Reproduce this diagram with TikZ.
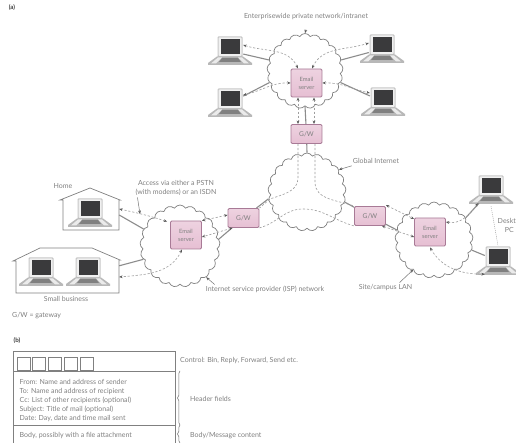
\documentclass[tikz,border=0pt]{standalone}
\usepackage{fontspec}
\setmainfont{Lato}
\usetikzlibrary{shapes.symbols,arrows.meta,calc,decorations.pathreplacing}
\definecolor{inkg}{HTML}{808080}
\definecolor{boxb}{HTML}{A87A96}
\definecolor{boxf}{HTML}{E6BFD3}
\definecolor{scr}{HTML}{3A3A3C}
\tikzset{
  lbl/.style={text=inkg,font=\fontsize{7}{8.4}\selectfont,inner sep=0pt,align=center},
  lblL/.style={lbl,align=left,anchor=west},
  title/.style={text=black!75,font=\fontsize{6.2}{7.2}\selectfont\bfseries,inner sep=0pt},
  cloudnet/.style={cloud,cloud puffs=21,cloud puff arc=120,aspect=1,draw=inkg,line width=.7pt,inner sep=0pt},
  mailbox/.style={draw=boxb,line width=.8pt,rounded corners=1.2pt,top color=boxf!70,bottom color=boxf,text=inkg,
     font=\fontsize{5.8}{8}\selectfont,align=center,inner sep=0pt,minimum width=31pt,minimum height=28pt},
  gwbox/.style={mailbox,minimum height=19pt,font=\fontsize{6.6}{7}\selectfont},
  lapnode/.style={inner sep=0pt,minimum width=26pt,minimum height=26pt},
  solidlink/.style={draw=black!45,line width=1.1pt},
  dashlink/.style={draw=black!38,dash pattern=on 2.2pt off 1.8pt,line width=.6pt},
  dasharrow/.style={dashlink,{Stealth[length=3.4pt,width=2.8pt,black!65]}-{Stealth[length=3.4pt,width=2.8pt,black!65]}},
  pointer/.style={draw=black!55,line width=.5pt,-{Stealth[length=3.5pt,width=2.8pt,black!65]}},
  tablerule/.style={draw=black!50,line width=.55pt},
  bracerule/.style={draw=black!55,line width=.5pt,decorate,decoration={brace,amplitude=2.5pt,mirror}},
}
\newcommand{\laptop}[3]{%
  \node[lapnode] (#1) at (#2,#3) {};
  \begin{scope}[shift={(#2,#3)}]
    \fill[black!22,rounded corners=1pt] (-12.5,-14.5) rectangle (12.5,6);
    \fill[black!6,rounded corners=1pt] (-11.5,-13.5) rectangle (11.5,5);
    \fill[scr] (-9.5,-12) rectangle (9.5,3.5);
    \fill[black!28] (-13,5.5) -- (13,5.5) -- (22,12) -- (22,14) -- (-22,14) -- (-22,12) -- cycle;
    \fill[black!8] (-12,6.5) -- (-8,6.5) -- (-14,12.5) -- (-19,12.5) -- cycle;
    \fill[black!8] (12,6.5) -- (8,6.5) -- (14,12.5) -- (19,12.5) -- cycle;
    \fill[black!50] (-8,7) -- (8,7) -- (11,11) -- (-11,11) -- cycle;
  \end{scope}}
\begin{document}
\begin{tikzpicture}[x=1pt,y=-1pt]
\useasboundingbox (0,0) rectangle (516,443);
\fill[white] (0,0) rectangle (516,443);

% clouds
\node[cloudnet,minimum width=76pt,minimum height=75pt] (cTop) at (305,71) {};
\node[cloudnet,minimum width=78pt,minimum height=78pt] (cGlobal) at (307,192) {};
\node[cloudnet,minimum width=80pt,minimum height=82pt] (cIsp) at (180,246) {};
\node[cloudnet,minimum width=78pt,minimum height=76pt] (cSite) at (434,240) {};

% buildings
\node[inner sep=0pt,minimum width=56pt,minimum height=30pt] (home) at (91,215) {};
\node[inner sep=0pt,minimum width=103pt,minimum height=34pt] (biz) at (67.5,276) {};
\draw[draw=black!50,line width=.7pt] (63,230) -- (63,200) -- (60,200) -- (90,188) -- (120,200) -- (119,200) -- (119,230) -- cycle;
\draw[draw=black!50,line width=.7pt] (16,293) -- (16,261) -- (13,261) -- (40,248) -- (92,248) -- (120,260) -- (119,260) -- (119,293) -- cycle;

% laptops
\laptop{lTL}{230}{51}
\laptop{lBL}{230}{103}
\laptop{lTR}{382}{49}
\laptop{lBR}{383}{102}
\laptop{lHome}{90}{213}
\laptop{lBizA}{41}{272}
\laptop{lBizB}{88}{272}
\laptop{lSiteA}{491}{190}
\laptop{lSiteB}{498}{261}

% servers and gateways
\node[mailbox] (sTop) at (306.5,83) {Email\\server};
\node[mailbox] (sIsp) at (186,235) {Email\\server};
\node[mailbox] (sSite) at (430,232) {Email\\server};
\node[gwbox] (gTop) at (306.5,134) {G/W};
\node[gwbox] (gLeft) at (243.5,218) {G/W};
\node[gwbox] (gRight) at (370,216) {G/W};

% solid links
\draw[solidlink] (lTL) -- (cTop.163);
\draw[solidlink] (lBL) -- (cTop.198);
\draw[solidlink] (lTR) -- (cTop.17);
\draw[solidlink] (lBR) -- (cTop.342);
\draw[solidlink] (gTop) -- (cTop.-90);
\draw[solidlink] (gTop) -- (cGlobal.90);
\draw[solidlink] (gLeft) -- (cIsp.10);
\draw[solidlink] (gLeft) -- (cGlobal.190);
\draw[solidlink] (gRight) -- (cGlobal.345);
\draw[solidlink] (gRight) -- (cSite.165);
\draw[solidlink] (home.east) -- (cIsp.155);
\draw[solidlink] (biz.north east) ++(0,7) -- (cIsp.200);
\draw[solidlink] (lSiteA) -- (cSite.35);
\draw[solidlink] (lSiteB) -- (cSite.345);

% dashed traffic, top cloud
\draw[dasharrow] (298,68.5) to[out=115,in=-18] (lTL.east |- 0,45);
\draw[dasharrow] (312,68.5) to[out=65,in=198] (lTR.west |- 0,43);
\draw[dasharrow] (sTop.west) to[out=178,in=12] (lBL.east |- 0,95);
\draw[dasharrow] (sTop.east) to[out=2,in=168] (lBR.west |- 0,93);
\draw[dasharrow] (298,97.5) -- (298,124);
\draw[dasharrow] (314,97.5) -- (314,124);

% dashed traffic, global cloud
\coordinate (gA) at (298,144);
\coordinate (gB) at (315,144);
\draw[dashlink] (gA) -- (298,178) to[out=-90,in=20] (270,199) -- (gLeft.north east);
\draw[dashlink] (gB) -- (315,182) to[out=-90,in=160] (gRight.north west);
\draw[dashlink] (gLeft.south east) to[out=15,in=180] (303,209) to[out=0,in=165] (gRight.south west);

% dashed traffic, ISP cloud
\draw[dasharrow] (gLeft.west) ++(0,-3) -- (sIsp.north east);
\draw[dasharrow] (gLeft.south west) ++(5,0) -- (sIsp.east |- 0,237);
\draw[dasharrow] (sIsp.north west) ++(-3,1) to[out=162,in=-12] (home.east |- 0,209);
\draw[dasharrow] (sIsp.south) ++(-4,0) to[out=-115,in=5] (biz.east |- 0,277);

% dashed traffic, site cloud
\draw[dasharrow] (gRight.north east) ++(0,-1) -- (sSite.west |- 0,219);
\draw[dasharrow] (gRight.south east) ++(-4,0) -- (sSite.west |- 0,237);
\draw[dasharrow] (sSite.east |- 0,222) to[out=-10,in=-125] (lSiteA.south west);
\draw[dasharrow] (sSite.south) ++(0,1) to[out=-60,in=180] (lSiteB.south west);
\draw[draw=black!40,dash pattern=on 1pt off 1pt,line width=.4pt] (lSiteA.south) ++(0,3) -- ($(lSiteB.north)+(0,-2)$);

% labels and pointers
\node[title] (ta) at (12,7.5) {(a)};
\node[title] (tb) at (17,341) {(b)};
\node[lbl] (tEnt) at (306,17) {Enterprisewide private network/intranet};
\draw[pointer] (tEnt.south) ++(0,9) -- (cTop.90);
\node[lbl] (tGlobal) at (376,161) {Global Internet};
\draw[pointer] (tGlobal.south west) ++(-1,2) -- (cGlobal.35);
\node[lbl] (tAccess) at (176,188) {Access via either a PSTN\\(with modems) or an ISDN};
\draw[pointer] (tAccess.south west) ++(2,2) -- (140,214);
\node[lbl] (tHome) at (63,186) {Home};
\node[lbl] (tBiz) at (66,299) {Small business};
\node[lblL] (tGw) at (12,316) {G/W = gateway};
\node[lbl] (tIsp) at (265,289) {Internet service provider (ISP) network};
\draw[pointer] (tIsp.north west) ++(9,-1) -- (cIsp.-50);
\node[lbl] (tSite) at (385.5,288) {Site/campus LAN};
\draw[pointer] (tSite.north) ++(14,-2) -- (cSite.-125);
\node[lbl,anchor=east] (tDesk) at (516,221) {Deskt};
\node[lbl,anchor=east] (tPc) at (514,229.5) {PC};

% message format
\draw[tablerule] (13,443) -- (13,351) -- (175,351) -- (175,443);
\draw[tablerule] (13,371) -- (175,371);
\draw[tablerule] (13,425) -- (175,425);
\foreach \n/\xx in {1/17,2/32,3/48,4/64,5/80}
  \node[draw=black!50,line width=.55pt,inner sep=0pt,minimum width=12.5pt,minimum height=12.5pt,anchor=north west] (sq\n) at (\xx,357) {};
\node[lblL] (tCtl) at (180,361) {Control: Bin, Reply, Forward, Send etc.};
\node[lblL,anchor=north west,font=\fontsize{7}{9}\selectfont] (tFields) at (19.5,379) {From: Name and address of sender\\To: Name and address of recipient\\Cc: List of other recipients (optional)\\Subject: Title of mail (optional)\\Date: Day, date and time mail sent};
\node[lblL] (tBody) at (19.5,436) {Body, possibly with a file attachment};
\draw[bracerule] (180,371) -- (180,425);
\draw[bracerule] (180,425) -- (180,443);
\node[lblL] (tHdr) at (190,399) {Header fields};
\node[lblL] (tMsg) at (190,436) {Body/Message content};
\end{tikzpicture}
\end{document}
